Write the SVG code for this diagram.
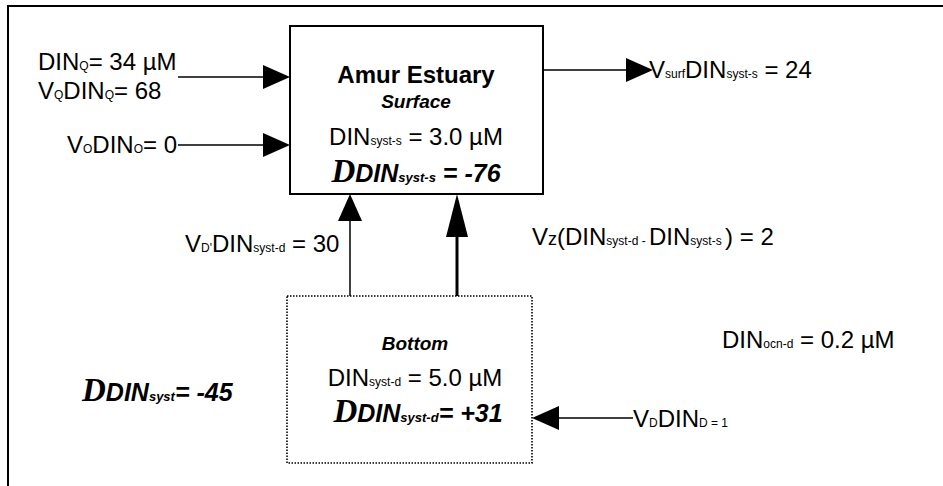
<svg xmlns="http://www.w3.org/2000/svg" width="943" height="486" viewBox="0 0 943 486">
<style>
text{font-family:"Liberation Sans",Arial,sans-serif;font-size:24px;fill:#000}
.s{font-size:12px}
.b{font-weight:bold}
.bi{font-weight:bold;font-style:italic;font-size:25px}
.bi .s{font-size:13px}
.dl{font-family:"Liberation Serif","Times New Roman",serif;font-weight:bold;font-style:italic;font-size:33px}
.ln{stroke:#000;stroke-width:1.5;fill:none}
.thick{stroke:#000;stroke-width:3;fill:none}
.frame{stroke:#000;stroke-width:2;fill:none}
.box{stroke:#000;stroke-width:2;fill:#fff}
.dot{stroke:#000;stroke-width:1.6;stroke-dasharray:1.5 1.5;fill:#fff}
</style>
<defs>
<marker id="head" viewBox="0 0 27 24" refX="0" refY="12" markerWidth="27" markerHeight="24" markerUnits="userSpaceOnUse" orient="auto">
<path d="M0,0 L27,12 L0,24 Z" fill="#000"/>
</marker>
<marker id="headT" viewBox="0 0 43 22" refX="0" refY="11" markerWidth="43" markerHeight="22" markerUnits="userSpaceOnUse" orient="auto">
<path d="M0,0 L43,11 L0,22 Z" fill="#000"/>
</marker>
</defs>
<rect width="943" height="486" fill="#fff"/>
<path class="frame" d="M8,486 V6 H943"/>

<g id="connectors">
<line class="ln" x1="178" y1="77" x2="263" y2="77" marker-end="url(#head)"/>
<line class="ln" x1="178" y1="145" x2="263" y2="145" marker-end="url(#head)"/>
<line class="ln" x1="543" y1="70" x2="626" y2="70" marker-end="url(#head)"/>
<line class="ln" x1="350" y1="296" x2="350" y2="221" marker-end="url(#head)"/>
<line class="thick" x1="457" y1="296" x2="457" y2="237" marker-end="url(#headT)"/>
<line class="ln" x1="633" y1="418" x2="559" y2="418" marker-end="url(#head)"/>
</g>

<g id="surface">
<rect class="box" x="290" y="26" width="253" height="168"/>
<text class="b" x="416" y="83" text-anchor="middle">Amur Estuary</text>
<text class="bi" x="416" y="108" text-anchor="middle" style="font-size:19px">Surface</text>
<text x="416" y="145" text-anchor="middle">DIN<tspan class="s">syst-s</tspan> = 3.0 µM</text>
<text class="bi" x="416" y="182" text-anchor="middle"><tspan class="dl">D</tspan>DIN<tspan class="s">syst-s</tspan> = -76</text>
</g>

<g id="bottom">
<rect class="dot" x="287" y="296" width="245" height="167"/>
<text class="bi" x="415" y="350" text-anchor="middle" style="font-size:19px">Bottom</text>
<text x="415" y="386" text-anchor="middle">DIN<tspan class="s">syst-d</tspan> = 5.0 µM</text>
<text class="bi" x="418" y="422" text-anchor="middle"><tspan class="dl">D</tspan>DIN<tspan class="s">syst-d</tspan>= +31</text>
</g>

<g id="labels">
<text x="38" y="70">DIN<tspan class="s">Q</tspan>= 34 µM</text>
<text x="38" y="99">V<tspan class="s">Q</tspan>DIN<tspan class="s">Q</tspan>= 68</text>
<text x="67" y="153">V<tspan class="s">O</tspan>DIN<tspan class="s">O</tspan>= 0</text>
<text x="649" y="78">V<tspan class="s">surf</tspan>DIN<tspan class="s">syst-s</tspan> = 24</text>
<text x="185" y="252">V<tspan class="s">D'</tspan>DIN<tspan class="s">syst-d</tspan> = 30</text>
<text x="532" y="245">V<tspan style="font-size:18px">z</tspan>(DIN<tspan class="s">syst-d - </tspan>DIN<tspan class="s">syst-s </tspan>) = 2</text>
<text x="722" y="348">DIN<tspan class="s">ocn-d</tspan> = 0.2 µM</text>
<text x="633" y="427">V<tspan class="s">D</tspan>DIN<tspan class="s">D = 1</tspan></text>
<text class="bi" x="82" y="401"><tspan class="dl">D</tspan>DIN<tspan class="s">syst</tspan>= -45</text>
</g>
</svg>
